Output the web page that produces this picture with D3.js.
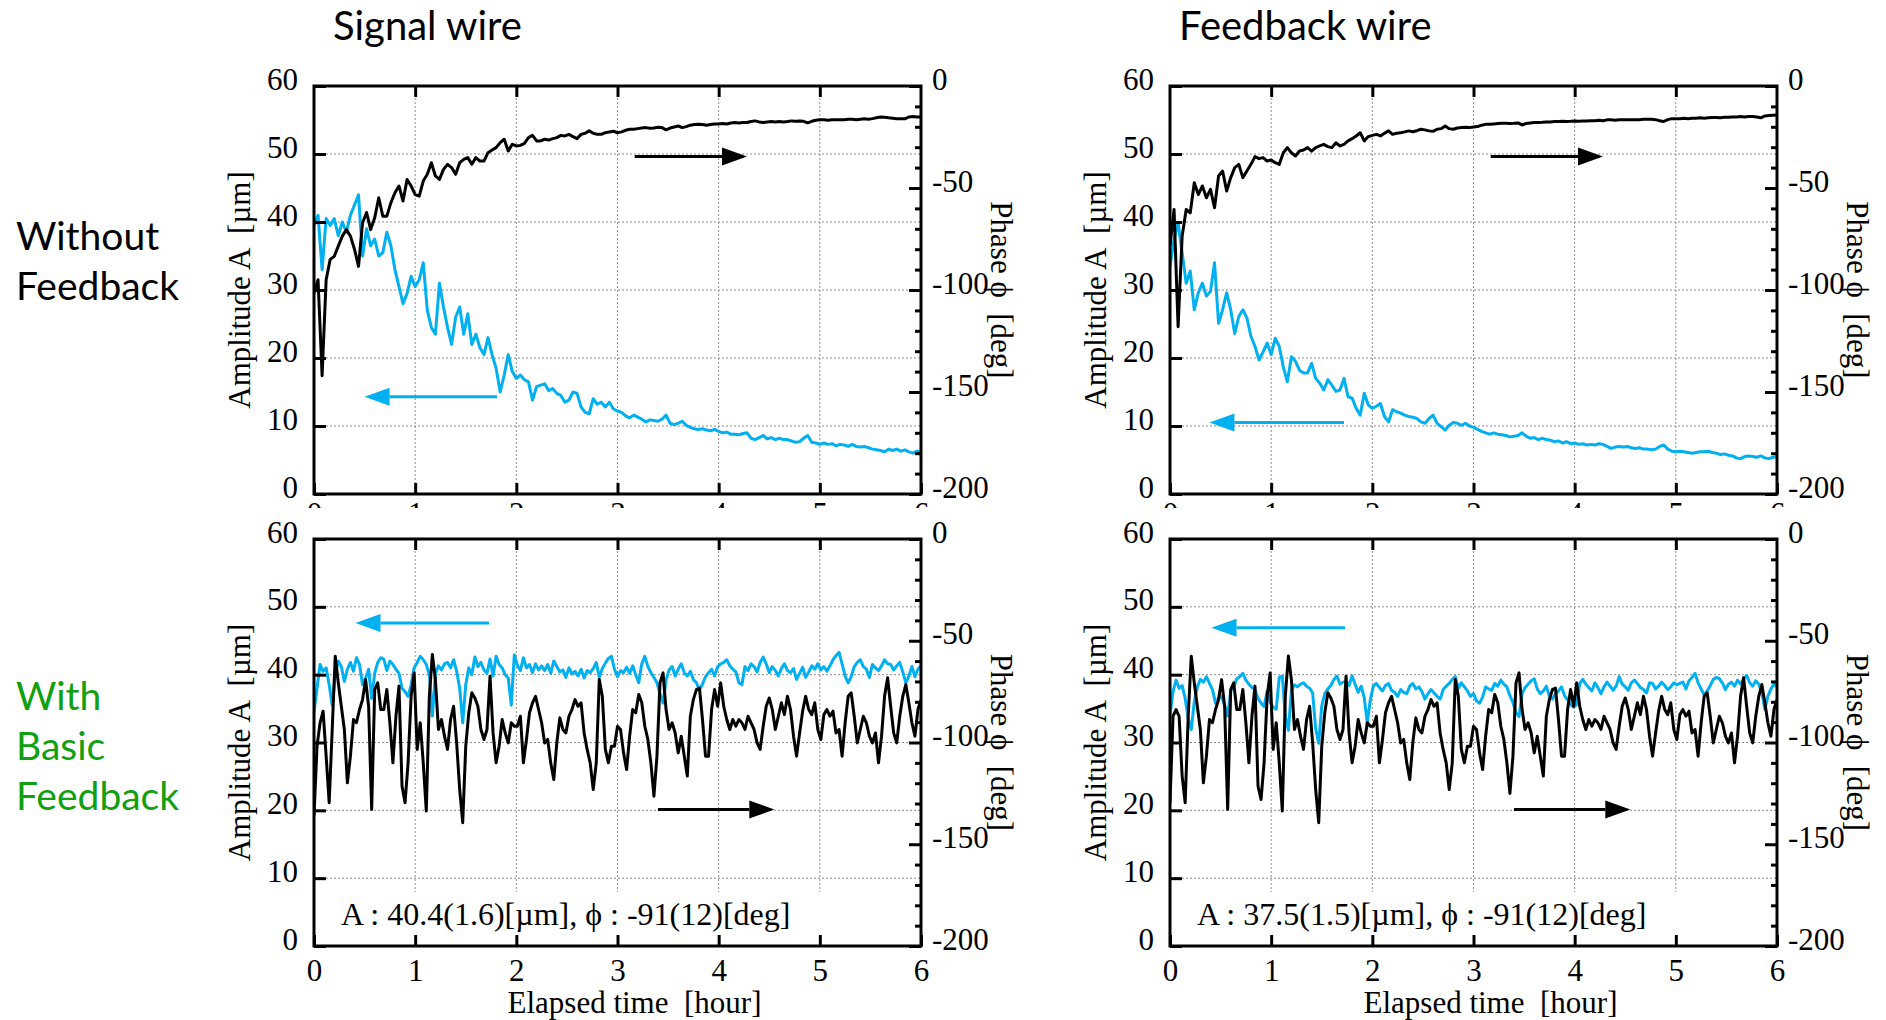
<!DOCTYPE html>
<html><head><meta charset="utf-8">
<script src="https://cdn.jsdelivr.net/npm/d3@7"></script>
<style>
html,body{margin:0;padding:0;background:#fff;}
svg{display:block;}
</style></head><body>
<svg id="chart" width="1886" height="1020"></svg>
<script>
// ---------------- DATA ----------------
const STEP_TOP = 0.04;     // hours between samples (top row)
const STEP_BOTTOM = 0.03;  // hours between samples (bottom row)
const xTicks = [0, 1, 2, 3, 4, 5, 6];
const ampTicks = [0, 10, 20, 30, 40, 50, 60];
const phaseMajorTicks = [0, -50, -100, -150, -200];
const phaseMinorTicks = [-10, -20, -30, -40, -60, -70, -80, -90, -110, -120, -130, -140, -160, -170, -180, -190];
const columnTitles = ["Signal wire", "Feedback wire"];
const rowLabels = [["Without", "Feedback"], ["With", "Basic", "Feedback"]];
const statTexts = ["A : 40.4(1.6)[µm], ϕ : -91(12)[deg]", "A : 37.5(1.5)[µm], ϕ : -91(12)[deg]"];

// Signal wire, without feedback
const ampSignalNoFb = [39.5,41,33,40.5,39.5,40.5,38,40,38.5,41,
42.5,44,35,39,36.5,37.5,35,35.5,38.5,36.5,
33,30.5,28,29.5,32,30.5,31.5,34,27,24.5,
23.5,31,27.5,24.5,22,26,27.5,23.5,26.5,22,
23.5,21.5,20.5,23,20.5,18.5,15,17.5,20.5,18,
17,17.5,16.8,16.5,13.8,15.8,16,16.2,15.2,15.5,
14.8,14.5,13.5,13.8,15,14.8,12.8,12,11.8,14,
13.2,13.5,12.8,13.5,12.5,12.2,12,11.5,11.2,11.6,
11.3,11,10.6,10.9,10.8,10.7,11,11.6,10.4,10.2,
10.4,10.7,10.1,9.8,9.6,9.5,9.6,9.4,9.3,9.5,
9.2,9.0,9.1,8.8,8.8,8.7,8.9,9.0,8.2,8.0,
8.3,8.6,8.1,8.3,8.0,8.2,8.0,8.0,7.8,7.6,
7.7,8.2,8.6,7.6,7.5,7.3,7.5,7.3,7.4,7.1,
7.3,7.2,7.0,7.3,7.0,6.9,7.0,6.8,6.6,6.5,
6.4,6.2,6.6,6.4,6.6,6.3,6.5,6.2,6.0,6.3,
6.2];
const phaseSignalNoFb = [-101.5,-95,-142,-95,-85,-83.5,-78.5,-73.6,-70.4,-73.6,
-80,-88.4,-67,-62,-70.4,-64.6,-54.8,-63.8,-63.8,-57.2,
-52.3,-49,-56.4,-45.8,-49,-53.2,-54,-46.6,-43.3,-37.6,
-44.1,-45.8,-40.9,-38.4,-40,-43.3,-37.6,-36,-35.1,-38.4,
-35.1,-36.8,-36.8,-32.7,-31.4,-30.2,-27.8,-26.1,-31.9,-28.6,
-29.4,-29.1,-28.1,-25.3,-24.2,-26.9,-26.9,-26.1,-26.5,-25.8,
-25.3,-24.2,-24.5,-23.7,-24.8,-25.8,-23.7,-23.2,-22,-23.2,
-23.7,-23.7,-22.9,-22.5,-22.2,-22.9,-22.5,-21.7,-21.2,-21.2,
-20.9,-20.6,-20.4,-20.7,-20.6,-20.2,-20.4,-21.5,-20.6,-20.1,
-19.6,-20.4,-19.9,-19.2,-18.9,-18.8,-18.9,-19.2,-18.9,-18.6,
-18.6,-18.4,-18.6,-18.1,-17.9,-18.1,-17.9,-17.9,-17.4,-17.1,
-17.6,-17.9,-17.6,-17.4,-17.6,-17.4,-17.6,-17.4,-17.1,-17.3,
-17.1,-17.3,-18.1,-17.3,-16.8,-16.6,-16.6,-16.8,-16.6,-16.5,
-16.5,-16.5,-16.3,-16.3,-16.5,-16.3,-16.1,-16.3,-16,-15.6,
-15.2,-15.3,-15.6,-15.8,-16,-16,-16.1,-15.2,-15,-15.2,
-15.2];

// Feedback wire, without feedback
const ampFeedbackNoFb = [33.5,37.4,39.9,35.5,31,32.8,27.1,29.6,31,29.1,
29.8,34,25.1,27.1,29.6,27.1,23.6,26.1,27.1,25.9,
23.2,21.7,19.7,20.9,22.2,20.5,22.9,21.7,18.7,16.5,
20.2,19.5,18.2,17.8,17.8,19.2,17,16.3,15.3,16.8,
16,15.1,15.3,17,14.3,14.1,12.6,11.6,14.8,13.1,
12.6,12.9,13.3,11.4,10.6,12.4,12.1,11.9,11.6,11.4,
11.3,11.1,10.6,10.4,11.1,11.6,10.4,9.9,9.4,10.1,
10.5,10.4,10.1,10.4,10,9.8,9.5,9.2,9,8.8,
9,8.8,8.7,8.6,8.4,8.5,8.6,9,8.5,8.2,
8.3,8,8.2,8,7.9,7.7,7.8,7.5,7.7,7.4,
7.5,7.3,7.4,7.2,7.3,7.2,7.4,7.3,7,6.7,
6.9,7,6.9,7,6.8,6.7,6.8,6.6,6.6,6.5,
6.6,7,7.2,6.6,6.3,6.2,6.3,6.2,6.1,6,
6.1,6.2,6.2,6.3,6.1,6,5.8,5.9,5.7,5.6,
5.3,5.2,5.5,5.6,5.5,5.4,5.6,5.3,5.2,5.4,
5.5];
const phaseFeedbackNoFb = [-78.5,-60.5,-118,-73.6,-60.5,-62.2,-47.4,-53.2,-49,-54.8,
-50.7,-59.7,-44.1,-41.7,-51.5,-44.9,-40,-38.4,-44.9,-41.7,
-38.4,-34.6,-35.6,-35.1,-36.8,-36.3,-37.6,-38.4,-32.7,-30.2,
-32.7,-34.3,-31.9,-31.4,-30.2,-31.9,-30.2,-29.4,-28.6,-29.7,
-30.2,-27.8,-29.4,-28.6,-26.9,-25.8,-24.5,-22.9,-26.9,-24.8,
-24.2,-23.7,-24.5,-23.2,-22,-23.7,-23.2,-22.9,-22.5,-22,
-22.4,-21.9,-21.2,-21.5,-22,-22.2,-21.2,-20.9,-19.6,-20.9,
-21.2,-20.6,-20.4,-20.2,-20.4,-20.1,-19.9,-19.2,-18.8,-18.8,
-18.6,-18.4,-18.3,-18.3,-18.4,-18.3,-18.1,-19.1,-18.4,-18.1,
-17.9,-17.9,-17.8,-17.6,-17.6,-17.4,-17.4,-17.3,-17.4,-17.3,
-17.1,-17.3,-17.1,-17.1,-17,-17,-16.8,-17,-16.6,-16.6,
-16.8,-16.6,-16.5,-16.6,-16.6,-16.5,-16.5,-16.3,-16.3,-16.3,
-16.5,-17,-17.4,-16.5,-16,-16,-16,-15.8,-16,-15.8,
-15.8,-15.6,-15.8,-15.6,-15.5,-15.5,-15.6,-15.3,-15.3,-15.2,
-15.2,-15,-15.2,-15,-15,-15.2,-15.6,-14.7,-14.5,-14.3,
-14.2];

// Signal wire, with basic feedback
const ampSignalBasicFb = [34.5,38,41.5,40.5,41,38.5,35.5,40,42,41.2,
39,40.8,41.8,40.5,42.5,41.5,38.5,39.5,40.8,36.5,
40.2,41.8,42.5,42.3,40.6,42,41.5,40.8,40.2,38,
37.5,36.8,38.5,41,41.8,42.7,42.2,41.5,40,33.9,
40.2,41.3,40.7,41.6,41.8,41,42.2,40.5,38,32.9,
38.5,41,40,42.6,41.2,41.8,40.7,40.2,42.3,39.8,
42.7,41.5,41,40,39.5,35.5,42.9,41.4,40.6,42.5,
41,41.5,40.3,41.6,40.7,41.3,40.6,41.5,40.2,42,
41.2,40.4,40.7,39.6,41,40.1,40.5,39.8,40.8,39.5,
40.6,40.3,40.9,41.8,39.6,40.9,41.7,42.4,42.7,40.8,
39.7,40.6,40.3,41.1,40.2,41.3,40,38.8,41.6,42.7,
41.2,40.3,39.6,38.8,37.2,35.8,39.2,40.7,41.2,39.8,
40.8,41.6,40.3,39.8,40.5,39.3,38.8,37.8,38.6,39.7,
40.3,40.8,39.8,41.2,41.6,41.8,42.2,41.3,40.8,40.4,
38.8,38.5,41.2,40.6,41.6,41.2,40.4,41.8,42.6,41.6,
40.3,41.2,40.6,39.8,40.9,41.6,40.6,40.3,40.9,39.3,
40.2,41.1,39.6,40.4,41.3,40.8,41.6,40.7,41.2,40.5,
41.3,42.2,42.8,43.3,41.6,39.8,38.8,39.7,41.2,41.8,
42.2,41.2,40.8,39.6,41.5,41,40.6,41.3,42.2,41.6,
41.5,40.7,41.3,41.8,40.4,38.8,39.8,41.2,39.7,40.8,
41.3];
const phaseSignalBasicFb = [-136,-101.8,-90.3,-84.6,-106.7,-129.6,-93.6,-57.6,-70.7,-82.2,
-93.6,-119.8,-106.7,-88.7,-90.3,-83.8,-78.9,-69.1,-82.2,-132.9,
-74,-70.7,-83.8,-83.8,-74,-90.3,-110,-87.1,-72.3,-121.4,
-129.6,-110,-77.3,-65.8,-103.4,-90.3,-110,-133.7,-77.3,-56.8,
-69.1,-93.6,-88.7,-96.9,-103.4,-88.7,-82.2,-100.2,-123.1,-139.4,
-101.8,-85.4,-75.6,-78.1,-82.2,-93.6,-98.5,-93.6,-67.4,-95.3,
-110,-101.8,-88.7,-95.3,-100.2,-90.3,-92,-92,-87.1,-110,
-98.5,-85.4,-80.5,-77.3,-83.8,-90.3,-100.2,-98.5,-110,-118.2,
-100.2,-87.9,-93.6,-95.3,-87.1,-83.8,-78.9,-82.2,-80.5,-95.3,
-103.4,-110,-123.1,-110,-69.1,-77.3,-103.4,-110,-101.8,-101.8,
-92,-93.6,-105.1,-113.3,-96.9,-83.8,-85.4,-76.4,-80.5,-92,
-98.5,-110,-126.4,-106.7,-70.7,-65.8,-83.8,-93.6,-90.3,-95.3,
-105.1,-96.9,-106.7,-116.5,-87.1,-78.9,-74,-73.2,-88.7,-106.7,
-106.7,-83.8,-74,-82.2,-70.7,-82.2,-88.7,-93.6,-88.7,-92,
-88.7,-90.3,-93.6,-87.1,-90.3,-93.6,-100.2,-103.4,-92,-82.2,
-78.1,-83.8,-93.6,-87.1,-80.5,-86.3,-77.3,-83.8,-96.9,-106.7,
-95.3,-84.6,-77.3,-83.8,-86.3,-80.5,-93.6,-98.5,-86.3,-83.8,
-87.1,-84.6,-95.3,-93.6,-106.7,-90.3,-77.3,-75.6,-87.1,-100.2,
-93.6,-87.1,-90.3,-96.9,-100.2,-95.3,-110,-96.9,-77.3,-68.2,
-82.2,-95.3,-100.2,-87.1,-77.3,-71.5,-80.5,-90.3,-96.9,-83.8,
-78.9];

// Feedback wire, with basic feedback
const ampFeedbackBasicFb = [34,37.5,39.2,38,38.4,36.5,33.5,31.9,36,38.2,
39.3,38.9,39.7,38.7,37.8,35.8,36.5,36.8,35.5,33.9,
37.6,38.2,39.4,39.7,40.2,39.2,38.6,38.1,37.8,36.5,
35.8,35.3,37.6,35.9,35.2,34.9,39.6,39.8,33.9,31.8,
37.6,38.5,38.2,38.6,38.8,38.3,38,37.3,32,29.9,
35.4,37.2,37.9,38.4,39.3,39.8,38.6,38.9,39,38.4,
39.8,38.6,37.4,38.3,36.6,32.9,36.3,38.3,38.7,38.1,
37.6,38.4,38.7,37.7,37.4,36.8,37.8,37.4,37.2,38.3,
38.7,37.9,38.2,37.5,36.4,37.2,37.8,37.3,36.8,36.4,
37.8,38.3,38.7,39.3,39.7,38,38.8,38.2,37.6,36.8,
37.2,36.1,35.8,36.7,38.2,37.9,37.7,38.7,38.3,39.2,
38.6,38.2,36.9,35.9,34.4,33.8,37.2,38.1,38.6,39.1,
39.4,37.9,37.2,37.6,38.3,36.8,36.4,37.2,37.6,38.2,
36.9,36.3,35.6,35.2,35.6,38.7,39.3,38.6,38.1,37.6,
38.8,38.1,37.2,38.2,38.9,38.3,37.7,38.3,39.7,38.6,
38.2,37.7,38.8,39.2,38.7,38.1,37.8,37.3,38.8,38.7,
37.9,38.3,38.9,38.4,37.8,38.2,38.8,38.5,38.7,38.9,
37.9,39.1,39.6,40.2,38.8,37.9,37,37.6,38.4,39.3,
39.6,39.4,38.8,37.8,38.6,38.9,38.3,39.2,38.6,39.4,
39.9,38.8,38.3,39.1,38.6,37.4,34.9,36.8,37.9,38.6,
38.2];
const phaseFeedbackBasicFb = [-129.6,-87,-83.8,-87.1,-116.5,-129.6,-87.1,-57.6,-70.7,-82.2,
-93.6,-119.8,-106.7,-88.7,-90.3,-83.8,-78.9,-69.1,-82.2,-132.9,
-74,-70.7,-83.8,-83.8,-74,-90.3,-110,-87.1,-72.3,-121.4,
-128,-110,-77.3,-65.8,-103.4,-90.3,-110,-133.7,-77.3,-57.5,
-69.1,-93.6,-88.7,-96.9,-103.4,-88.7,-82.2,-100.2,-123.1,-139.4,
-101.8,-85.4,-75.6,-78.1,-82.2,-93.6,-98.5,-93.6,-67.4,-95.3,
-110,-101.8,-88.7,-95.3,-100.2,-90.3,-92,-92,-87.1,-110,
-98.5,-85.4,-80.5,-77.3,-83.8,-90.3,-100.2,-98.5,-110,-118.2,
-100.2,-87.9,-93.6,-95.3,-87.1,-83.8,-78.9,-82.2,-80.5,-95.3,
-103.4,-110,-123.1,-110,-69.1,-77.3,-103.4,-110,-101.8,-101.8,
-92,-93.6,-105.1,-113.3,-96.9,-83.8,-85.4,-76.4,-80.5,-92,
-98.5,-110,-125,-106.7,-70.7,-65.8,-83.8,-93.6,-90.3,-95.3,
-105.1,-96.9,-106.7,-116.5,-87.1,-78.9,-74,-73.2,-88.7,-106.7,
-106.7,-83.8,-74,-82.2,-70.7,-82.2,-88.7,-93.6,-88.7,-92,
-88.7,-90.3,-93.6,-87.1,-90.3,-93.6,-100.2,-103.4,-92,-82.2,
-78.1,-83.8,-93.6,-87.1,-80.5,-86.3,-77.3,-83.8,-96.9,-106.7,
-95.3,-84.6,-77.3,-83.8,-86.3,-80.5,-93.6,-98.5,-86.3,-83.8,
-87.1,-84.6,-95.3,-93.6,-106.7,-90.3,-77.3,-75.6,-87.1,-100.2,
-93.6,-87.1,-90.3,-96.9,-100.2,-95.3,-110,-96.9,-77.3,-68.2,
-82.2,-95.3,-100.2,-87.1,-77.3,-71.5,-80.5,-90.3,-96.9,-83.8,
-78.9];

// direction arrows: axis they point to, tail and tip (hours), level (axis units)
const arrowsNoFb = [
  {series: "phase", tail: 3.17, tip: 4.28, level: -34.6},
  {series: "amp", tail: 1.81, tip: 0.50, level: 14.3}
];
const arrowsFbWireNoFb = [
  {series: "phase", tail: 3.17, tip: 4.28, level: -34.6},
  {series: "amp", tail: 1.72, tip: 0.39, level: 10.5}
];
const arrowsBasicFb = [
  {series: "amp", tail: 1.73, tip: 0.41, level: 47.6},
  {series: "phase", tail: 3.40, tip: 4.55, level: -132.9}
];
const arrowsFbWireBasicFb = [
  {series: "amp", tail: 1.73, tip: 0.41, level: 46.9},
  {series: "phase", tail: 3.40, tip: 4.55, level: -132.9}
];

// ---------------- LAYOUT / STYLE ----------------
const COLS = [{left: 314, right: 921}, {left: 1170, right: 1777}];
const ROWS = [{top: 86, bottom: 494}, {top: 539, bottom: 946}];
const CYAN = "#00b0f0";
const GREEN = "#0f9f0f";
const SERIF = "'Liberation Serif','Times New Roman',serif";
const SANS = "Lato,'Open Sans','Noto Sans',sans-serif";

const panels = [
  {row: 0, col: 0, amp: ampSignalNoFb, phase: phaseSignalNoFb, step: STEP_TOP, arrows: arrowsNoFb},
  {row: 0, col: 1, amp: ampFeedbackNoFb, phase: phaseFeedbackNoFb, step: STEP_TOP, arrows: arrowsFbWireNoFb},
  {row: 1, col: 0, amp: ampSignalBasicFb, phase: phaseSignalBasicFb, step: STEP_BOTTOM, arrows: arrowsBasicFb, stat: statTexts[0]},
  {row: 1, col: 1, amp: ampFeedbackBasicFb, phase: phaseFeedbackBasicFb, step: STEP_BOTTOM, arrows: arrowsFbWireBasicFb, stat: statTexts[1]}
];

const svg = d3.select("#chart");
const defs = svg.append("defs");
defs.append("clipPath").attr("id", "topLabelClip")
  .append("rect").attr("x", 0).attr("y", 0).attr("width", 1886).attr("height", 508);

panels.forEach((p, pi) => {
  const c = COLS[p.col], r = ROWS[p.row];
  const x = d3.scaleLinear().domain([0, 6]).range([c.left, c.right]);
  const yA = d3.scaleLinear().domain([0, 60]).range([r.bottom, r.top]);
  const yP = d3.scaleLinear().domain([-200, 0]).range([r.bottom, r.top]);
  const g = svg.append("g");

  defs.append("clipPath").attr("id", "plot" + pi)
    .append("rect").attr("x", c.left).attr("y", r.top)
    .attr("width", c.right - c.left).attr("height", r.bottom - r.top);

  // grid
  const grid = g.append("g").attr("stroke", "#8c8c8c").attr("stroke-width", 1).attr("stroke-dasharray", "2,2");
  grid.selectAll("line.v").data(xTicks.slice(1, -1)).join("line")
    .attr("x1", d => x(d)).attr("x2", d => x(d)).attr("y1", r.top).attr("y2", r.bottom);
  grid.selectAll("line.h").data(ampTicks.slice(1, -1)).join("line")
    .attr("x1", c.left).attr("x2", c.right).attr("y1", d => yA(d)).attr("y2", d => yA(d));

  if (p.stat) {
    g.append("rect").attr("x", c.left + 2).attr("y", r.bottom - 54)
      .attr("width", c.right - c.left - 4).attr("height", 52).attr("fill", "#fff");
  }

  // series
  const lines = g.append("g").attr("clip-path", `url(#plot${pi})`).attr("fill", "none")
    .attr("stroke-linejoin", "round");
  lines.append("path").datum(p.amp)
    .attr("d", d3.line().x((d, i) => x(i * p.step)).y(d => yA(d)))
    .attr("stroke", CYAN).attr("stroke-width", 3);
  lines.append("path").datum(p.phase)
    .attr("d", d3.line().x((d, i) => x(i * p.step)).y(d => yP(d)))
    .attr("stroke", "#000").attr("stroke-width", 3);

  // arrows
  p.arrows.forEach(a => {
    const col = a.series === "amp" ? CYAN : "#000";
    const yy = a.series === "amp" ? yA(a.level) : yP(a.level);
    const xt = x(a.tail), xh = x(a.tip);
    const dir = Math.sign(xh - xt);
    const headLen = 25, headHalf = 9;
    g.append("line").attr("x1", xt).attr("x2", xh - dir * headLen).attr("y1", yy).attr("y2", yy)
      .attr("stroke", col).attr("stroke-width", 3);
    g.append("path")
      .attr("d", `M${xh},${yy} L${xh - dir * headLen},${yy - headHalf} L${xh - dir * headLen},${yy + headHalf} Z`)
      .attr("fill", col);
  });

  // axes
  const styleAxis = sel => {
    sel.attr("font-family", SERIF).attr("font-size", 31);
    sel.select(".domain").remove();
    sel.selectAll(".tick line").attr("stroke", "#000").attr("stroke-width", 3);
    sel.selectAll(".tick text").attr("fill", "#000");
  };

  const axL = g.append("g").attr("transform", `translate(${c.left},0)`)
    .call(d3.axisLeft(yA).tickValues(ampTicks).tickSize(-12).tickPadding(16).tickFormat(d => String(d)));
  styleAxis(axL);
  axL.selectAll(".tick text").attr("dy", "0.1em");

  const axRmin = g.append("g").attr("transform", `translate(${c.right},0)`)
    .call(d3.axisRight(yP).tickValues(phaseMinorTicks).tickSize(-6).tickFormat(""));
  styleAxis(axRmin);
  const axR = g.append("g").attr("transform", `translate(${c.right},0)`)
    .call(d3.axisRight(yP).tickValues(phaseMajorTicks).tickSize(-12).tickPadding(11).tickFormat(d => String(d)));
  styleAxis(axR);
  axR.selectAll(".tick text").attr("dy", "0.1em");

  const axT = g.append("g").attr("transform", `translate(0,${r.top})`)
    .call(d3.axisTop(x).tickValues(xTicks.slice(1, -1)).tickSize(-11).tickFormat(""));
  styleAxis(axT);

  const axB = g.append("g").attr("transform", `translate(0,${r.bottom})`)
    .call(d3.axisBottom(x).tickValues(xTicks).tickSize(-11).tickPadding(p.row === 0 ? 8 : 13).tickFormat(d => String(d)));
  styleAxis(axB);
  if (p.row === 0) {
    // the top row's hour labels are mostly hidden behind the lower panel
    const texts = axB.selectAll(".tick text").nodes();
    const holder = g.append("g").attr("clip-path", "url(#topLabelClip)");
    texts.forEach(t => {
      const tr = t.parentNode.getAttribute("transform");
      const gg = holder.append("g").attr("transform", `translate(0,${r.bottom}) ${tr}`)
        .attr("font-family", SERIF).attr("font-size", 31).attr("text-anchor", "middle");
      gg.node().appendChild(t);
    });
  }

  // frame
  g.append("rect").attr("x", c.left).attr("y", r.top)
    .attr("width", c.right - c.left).attr("height", r.bottom - r.top)
    .attr("fill", "none").attr("stroke", "#000").attr("stroke-width", 3);

  // axis titles
  const cy = (r.top + r.bottom) / 2;
  g.append("text").attr("transform", `translate(${c.left - 64},${cy}) rotate(-90)`)
    .attr("text-anchor", "middle").attr("font-family", SERIF).attr("font-size", 31)
    .style("white-space", "pre").text("Amplitude A  [µm]");
  g.append("text").attr("transform", `translate(${c.right + 70},${cy}) rotate(90)`)
    .attr("text-anchor", "middle").attr("font-family", SERIF).attr("font-size", 31)
    .style("white-space", "pre").text("Phase ϕ  [deg]");
  if (p.row === 1) {
    g.append("text").attr("x", (c.left + c.right) / 2 + 17).attr("y", r.bottom + 67)
      .attr("text-anchor", "middle").attr("font-family", SERIF).attr("font-size", 31)
      .style("white-space", "pre").text("Elapsed time  [hour]");
  }
  if (p.stat) {
    g.append("text").attr("x", c.left + 27).attr("y", r.bottom - 21)
      .attr("font-family", SERIF).attr("font-size", 32).text(p.stat);
  }
});

// column titles
columnTitles.forEach((t, i) => {
  svg.append("text").attr("x", [333, 1179][i]).attr("y", 40)
    .attr("font-family", SANS).attr("font-size", 40).attr("fill", "#000").text(t);
});

// row labels
const rowLabelY = [[250, 300], [710, 760, 810]];
const rowColors = ["#000", GREEN];
rowLabels.forEach((lines, ri) => {
  lines.forEach((t, li) => {
    svg.append("text").attr("x", 16).attr("y", rowLabelY[ri][li])
      .attr("font-family", SANS).attr("font-size", 39).attr("fill", rowColors[ri]).text(t);
  });
});
</script>
</body></html>
